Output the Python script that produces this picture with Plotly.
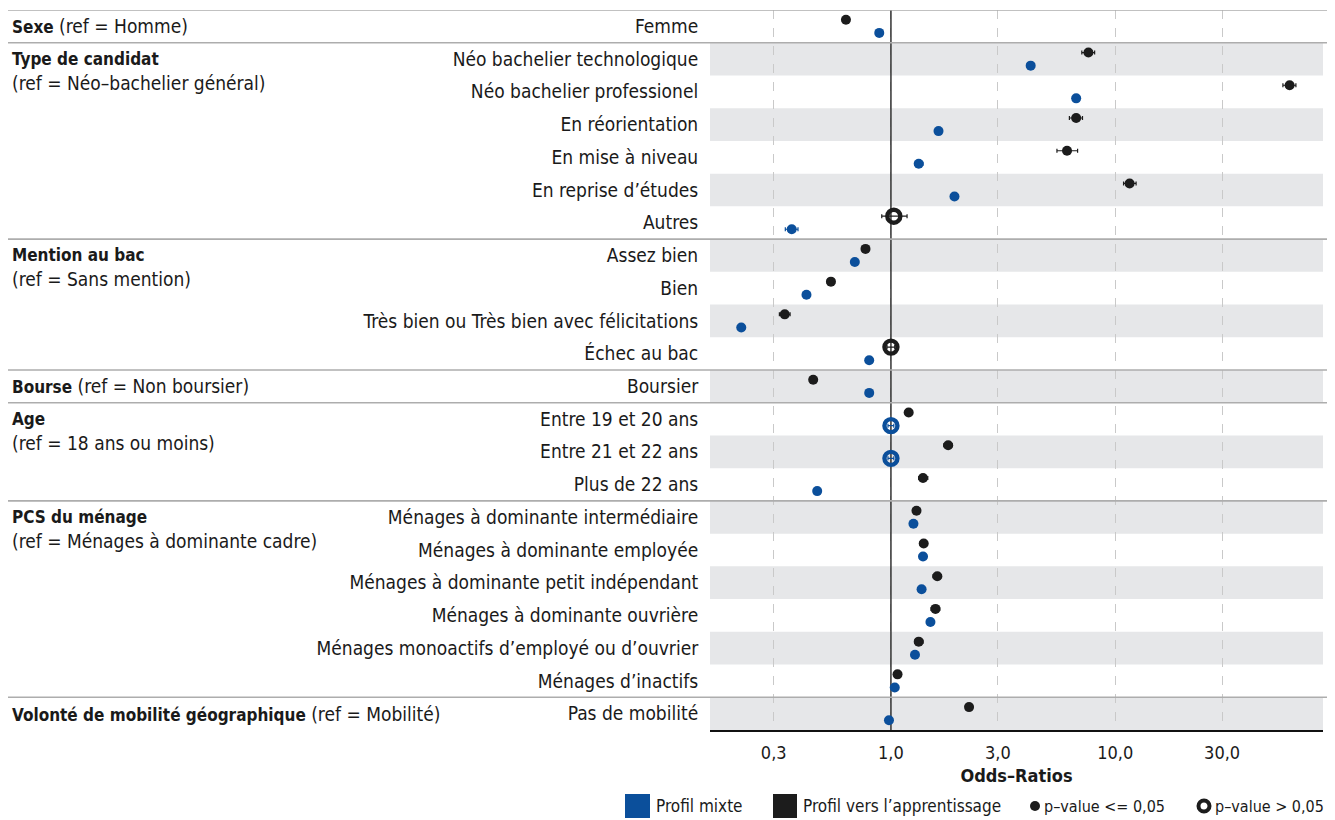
import plotly.graph_objects as go

# ---------------- data ----------------
row_labels = [
    "Femme",
    "Néo bachelier technologique", "Néo bachelier professionel", "En réorientation",
    "En mise à niveau", "En reprise d’études", "Autres",
    "Assez bien", "Bien", "Très bien ou Très bien avec félicitations", "Échec au bac",
    "Boursier",
    "Entre 19 et 20 ans", "Entre 21 et 22 ans", "Plus de 22 ans",
    "Ménages à dominante intermédiaire", "Ménages à dominante employée",
    "Ménages à dominante petit indépendant", "Ménages à dominante ouvrière",
    "Ménages monoactifs d’employé ou d’ouvrier", "Ménages d’inactifs",
    "Pas de mobilité",
]

# Profil vers l'apprentissage (black)
appr_or = [0.63, 7.6, 60.0, 6.7, 6.1, 11.6, 1.03, 0.77, 0.54, 0.336, 1.0, 0.45,
           1.20, 1.80, 1.39, 1.30, 1.40, 1.61, 1.58, 1.33, 1.07, 2.23]
appr_lo = [0.61, 7.1, 56.0, 6.25, 5.5, 10.9, 0.91, 0.75, 0.52, 0.318, 0.96, 0.44,
           1.17, 1.72, 1.33, 1.25, 1.35, 1.54, 1.51, 1.28, 1.03, 2.18]
appr_hi = [0.65, 8.1, 64.0, 7.15, 6.8, 12.4, 1.18, 0.79, 0.56, 0.355, 1.04, 0.46,
           1.23, 1.88, 1.46, 1.35, 1.45, 1.68, 1.65, 1.39, 1.11, 2.28]
appr_sig = [1, 1, 1, 1, 1, 1, 0, 1, 1, 1, 0, 1, 1, 1, 1, 1, 1, 1, 1, 1, 1, 1]

# Profil mixte (blue)
mixte_or = [0.887, 4.2, 6.7, 1.63, 1.33, 1.92, 0.361, 0.69, 0.42, 0.215, 0.80, 0.80,
            1.0, 1.0, 0.469, 1.26, 1.39, 1.37, 1.50, 1.28, 1.04, 0.98]
mixte_lo = [0.87, 4.1, 6.55, 1.60, 1.28, 1.88, 0.338, 0.68, 0.41, 0.21, 0.79, 0.79,
            0.97, 0.97, 0.46, 1.24, 1.37, 1.35, 1.48, 1.26, 1.02, 0.97]
mixte_hi = [0.90, 4.3, 6.85, 1.66, 1.39, 1.96, 0.385, 0.70, 0.43, 0.22, 0.81, 0.81,
            1.03, 1.03, 0.478, 1.28, 1.41, 1.39, 1.52, 1.30, 1.06, 0.99]
mixte_sig = [1, 1, 1, 1, 1, 1, 1, 1, 1, 1, 1, 1, 0, 0, 1, 1, 1, 1, 1, 1, 1, 1]

groups = [
    (0, "Sexe", "(ref = Homme)", True),
    (1, "Type de candidat", "(ref = Néo–bachelier général)", False),
    (7, "Mention au bac", "(ref = Sans mention)", False),
    (11, "Bourse", "(ref = Non boursier)", True),
    (12, "Age", "(ref = 18 ans ou moins)", False),
    (15, "PCS du ménage", "(ref = Ménages à dominante cadre)", False),
    (21, "Volonté de mobilité géographique", "(ref = Mobilité)", True),
]

tick_vals = [0.3, 1, 3, 10, 30]
tick_text = ["0,3", "1,0", "3,0", "10,0", "30,0"]

# ---------------- style ----------------
FONT = "DejaVu Sans Condensed, Liberation Sans Narrow, Roboto Condensed, sans-serif"
BLUE = "#0b4f9b"
BLACK = "#1c1c1c"
BAND = "#e6e7e9"
TXT = "#1a1a1a"
OFFS = 8                      # page body margin
W, H = 1335 - OFFS, 820 - OFFS
L = 710 - OFFS
T = 10 - OFFS
B = H - (730 - OFFS)
R = W - (1323 - OFFS)
pw = W - L - R
ph = H - T - B


def fx(p):  # target page pixel -> paper x
    return (p - OFFS - L) / pw


def fy(p):  # target page pixel -> paper y
    return (H - B - (p - OFFS)) / ph


fig = go.Figure()
n = len(row_labels)
OFF = 0.2

# reference line at OR = 1 (drawn under markers, over grid)
fig.add_trace(go.Scatter(x=[1, 1], y=[-0.5, n - 0.5], mode="lines",
                         line=dict(color="#333333", width=1.5),
                         hoverinfo="skip", showlegend=False))


def add_series(vals, lo, hi, sig, color, offset, name):
    for s in (1, 0):
        idx = [i for i in range(n) if sig[i] == s]
        if not idx:
            continue
        x = [vals[i] for i in idx]
        y = [i + offset for i in idx]
        plus = [hi[i] - vals[i] for i in idx]
        minus = [vals[i] - lo[i] for i in idx]
        if s:
            marker = dict(symbol="circle", size=10, color=color, line=dict(width=0))
        else:
            marker = dict(symbol="circle-open", size=13, color=color,
                          line=dict(width=4.4, color=color))
        fig.add_trace(go.Scatter(
            x=x, y=y, mode="markers", marker=marker, name=name, showlegend=False,
            error_x=dict(type="data", array=plus, arrayminus=minus, color=color,
                         thickness=1.2, width=2),
        ))


add_series(appr_or, appr_lo, appr_hi, appr_sig, BLACK, -OFF, "Profil vers l’apprentissage")
add_series(mixte_or, mixte_lo, mixte_hi, mixte_sig, BLUE, OFF, "Profil mixte")

shapes = []
for i in range(n):
    if i % 2 == 1:
        shapes.append(dict(type="rect", xref="paper", yref="y", x0=0, x1=1,
                           y0=i - 0.5, y1=i + 0.5, fillcolor=BAND, line=dict(width=0),
                           layer="below"))
for g in groups:
    yy = g[0] - 0.5
    shapes.append(dict(type="line", xref="paper", yref="y", x0=fx(0), x1=fx(1335),
                       y0=yy, y1=yy, line=dict(color="#adadad", width=1.6), layer="above"))

annotations = []
BOLD_SZ = 17
REG_SZ = 19
for (r, name, ref, inline) in groups:
    if inline:
        txt = f"<b><span style='font-size:{BOLD_SZ}px'>{name}</span></b> {ref}"
        annotations.append(dict(xref="paper", yref="y", x=fx(10), y=r, xanchor="left",
                                yanchor="middle", showarrow=False, text=txt,
                                font=dict(family=FONT, size=REG_SZ, color=TXT)))
    else:
        annotations.append(dict(xref="paper", yref="y", x=fx(10), y=r, xanchor="left",
                                yanchor="middle", showarrow=False, text=f"<b>{name}</b>",
                                font=dict(family=FONT, size=BOLD_SZ, color=TXT)))
        annotations.append(dict(xref="paper", yref="y", x=fx(10), y=r, yshift=-24,
                                xanchor="left", yanchor="middle", showarrow=False, text=ref,
                                font=dict(family=FONT, size=REG_SZ, color=TXT)))

# manual legend
ly = fy(806)
shapes.append(dict(type="rect", xref="paper", yref="paper", x0=fx(625), x1=fx(650),
                   y0=fy(818), y1=fy(794), fillcolor=BLUE, line=dict(width=0)))
shapes.append(dict(type="rect", xref="paper", yref="paper", x0=fx(773), x1=fx(797),
                   y0=fy(818), y1=fy(794), fillcolor=BLACK, line=dict(width=0)))
shapes.append(dict(type="circle", xref="paper", yref="paper", x0=fx(1030), x1=fx(1040),
                   y0=fy(811), y1=fy(801), fillcolor=BLACK, line=dict(width=0)))
shapes.append(dict(type="circle", xref="paper", yref="paper", x0=fx(1198.5), x1=fx(1209.5),
                   y0=fy(811.5), y1=fy(800.5), fillcolor="rgba(0,0,0,0)",
                   line=dict(color=BLACK, width=4)))
for xs, txt, sz in [(654, "Profil mixte", 17), (801, "Profil vers l’apprentissage", 17),
                    (1042, "p–value <= 0,05", 16), (1213, "p–value > 0,05", 16)]:
    annotations.append(dict(xref="paper", yref="paper", x=fx(xs), y=ly, xanchor="left",
                            yanchor="middle", showarrow=False, text=txt,
                            font=dict(family=FONT, size=sz, color=TXT)))

fig.update_layout(
    width=W, height=H,
    margin=dict(l=L, r=R, t=T, b=B, pad=0),
    paper_bgcolor="white", plot_bgcolor="white",
    font=dict(family=FONT, size=REG_SZ, color=TXT),
    shapes=shapes, annotations=annotations,
    xaxis=dict(type="log", range=[-0.807, 1.927], tickvals=tick_vals, ticktext=tick_text,
               showgrid=True, gridcolor="#c9c9c9", griddash="dash", gridwidth=1,
               showline=True, linecolor="#111111", linewidth=2, zeroline=False,
               ticks="outside", ticklen=5, tickcolor="rgba(0,0,0,0)",
               tickfont=dict(family=FONT, size=18, color=TXT),
               title=dict(text="<b>Odds–Ratios</b>", standoff=8,
                          font=dict(family=FONT, size=18, color=TXT))),
    yaxis=dict(range=[n - 0.5, -0.5], tickvals=list(range(n)), ticktext=row_labels,
               showgrid=False, zeroline=False, showline=False,
               ticks="outside", ticklen=7, tickcolor="rgba(0,0,0,0)",
               tickfont=dict(family=FONT, size=REG_SZ, color=TXT)),
)

fig.write_html("out.html")
